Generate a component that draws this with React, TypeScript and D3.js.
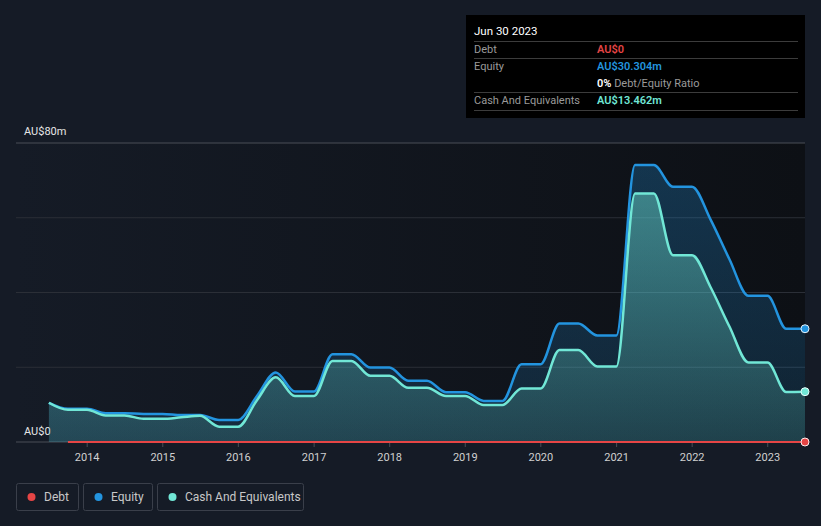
import React from 'react';
import * as d3 from 'd3';

const quarterDates = [
  '2013-06-30', '2013-09-30', '2013-12-31', '2014-03-31', '2014-06-30', '2014-09-30', '2014-12-31',
  '2015-03-31', '2015-06-30', '2015-09-30', '2015-12-31', '2016-03-31', '2016-06-30', '2016-09-30',
  '2016-12-31', '2017-03-31', '2017-06-30', '2017-09-30', '2017-12-31', '2018-03-31', '2018-06-30',
  '2018-09-30', '2018-12-31', '2019-03-31', '2019-06-30', '2019-09-30', '2019-12-31', '2020-03-31',
  '2020-06-30', '2020-09-30', '2020-12-31', '2021-03-31', '2021-06-30', '2021-09-30', '2021-12-31',
  '2022-03-31', '2022-06-30', '2022-09-30', '2022-12-31', '2023-03-31', '2023-06-30',
];

// AU$ millions
const equityValues = [
  10.5, 8.9, 8.9, 7.7, 7.7, 7.5, 7.5,
  7.2, 7.2, 5.9, 5.9, 12.3, 18.6, 13.5,
  13.5, 23.5, 23.5, 19.9, 19.9, 16.4, 16.4,
  13.3, 13.3, 11.0, 11.0, 20.8, 20.8, 31.7,
  31.7, 28.5, 28.5, 74.1, 74.1, 68.3, 68.3,
  59.5, 48.9, 39.1, 39.1, 30.3, 30.304,
];

const cashValues = [
  10.5, 8.6, 8.6, 7.1, 7.1, 6.2, 6.2,
  6.6, 7.0, 4.1, 4.1, 11.2, 17.3, 12.3,
  12.3, 21.7, 21.7, 17.7, 17.7, 14.5, 14.5,
  12.3, 12.3, 9.9, 9.9, 14.3, 14.3, 24.6,
  24.6, 20.2, 20.2, 66.5, 66.5, 50.0, 50.0,
  41.4, 30.9, 21.3, 21.3, 13.4, 13.462,
];

const debtValues: (number | null)[] = [
  null, 0, 0, 0, 0, 0, 0,
  0, 0, 0, 0, 0, 0, 0,
  0, 0, 0, 0, 0, 0, 0,
  0, 0, 0, 0, 0, 0, 0,
  0, 0, 0, 0, 0, 0, 0,
  0, 0, 0, 0, 0, 0,
];

const yTicks = [0, 20, 40, 60, 80];
const xTickYears = [2014, 2015, 2016, 2017, 2018, 2019, 2020, 2021, 2022, 2023];

const tooltipRows = [
  { label: 'Debt', value: 'AU$0', color: '#e64545' },
  { label: 'Equity', value: 'AU$30.304m', color: '#2394df' },
  { label: 'Cash And Equivalents', value: 'AU$13.462m', color: '#71e7d6' },
];

const legendItems = [
  { label: 'Debt', color: '#e64545' },
  { label: 'Equity', color: '#2394df' },
  { label: 'Cash And Equivalents', color: '#71e7d6' },
];

const W = 821;
const H = 526;
const BG = '#151b26';
const FONT = 'Roboto, "Open Sans", sans-serif';

type Pt = { date: Date; v: number };

export default function App() {
  const parse = d3.timeParse('%Y-%m-%d');
  const dates = quarterDates.map((d) => parse(d) as Date);

  const plotLeft = 16;
  const plotRight = 805;
  const x = d3
    .scaleTime()
    .domain([dates[0], dates[dates.length - 1]])
    .range([48.9, plotRight]);
  const y = d3.scaleLinear().domain([0, 80]).range([442, 143]);

  const equity: Pt[] = dates.map((d, i) => ({ date: d, v: equityValues[i] }));
  const cash: Pt[] = dates.map((d, i) => ({ date: d, v: cashValues[i] }));
  const debt: Pt[] = dates
    .map((d, i) => ({ date: d, v: debtValues[i] as number }))
    .filter((p, i) => debtValues[i] !== null);

  const line = d3
    .line<Pt>()
    .x((d) => x(d.date))
    .y((d) => y(d.v))
    .curve(d3.curveMonotoneX);
  const area = d3
    .area<Pt>()
    .x((d) => x(d.date))
    .y0(y(0))
    .y1((d) => y(d.v))
    .curve(d3.curveMonotoneX);

  const last = dates.length - 1;
  const legendX = [16, 83, 157];
  const legendW = [62, 69, 146];

  return (
    <svg
      width={W}
      height={H}
      style={{ position: 'absolute', left: 0, top: 0, fontFamily: FONT }}
    >
      <defs>
        <linearGradient id="plotBg" x1="0" x2="1" y1="0" y2="0">
          <stop offset="0%" stopColor={BG} />
          <stop offset="100%" stopColor="#0d1015" />
        </linearGradient>
        <linearGradient id="equityFill" gradientUnits="userSpaceOnUse" x1="0" x2="0" y1={y(80)} y2={y(0)}>
          <stop offset="0%" stopColor="#2394df" stopOpacity={0.28} />
          <stop offset="100%" stopColor="#2394df" stopOpacity={0.14} />
        </linearGradient>
        <linearGradient id="cashFill" gradientUnits="userSpaceOnUse" x1="0" x2="0" y1={y(80)} y2={y(0)}>
          <stop offset="0%" stopColor="#71e7d6" stopOpacity={0.5} />
          <stop offset="100%" stopColor="#71e7d6" stopOpacity={0.15} />
        </linearGradient>
      </defs>

      <rect x={0} y={0} width={W} height={H} fill={BG} />
      <rect x={plotLeft} y={y(80)} width={plotRight - plotLeft} height={y(0) - y(80)} fill="url(#plotBg)" />

      {/* grid */}
      {yTicks.map((t) => (
        <line
          key={t}
          x1={plotLeft}
          x2={plotRight}
          y1={y(t)}
          y2={y(t)}
          stroke={t === 80 || t === 0 ? '#4a4e57' : '#2b2f37'}
          strokeWidth={1}
        />
      ))}
      <text x={24} y={135} fill="#e6e6e6" fontSize={11}>AU$80m</text>
      <text x={24} y={435} fill="#e6e6e6" fontSize={11}>AU$0</text>

      {/* x axis */}
      {xTickYears.map((yr) => {
        const tx = x(new Date(yr, 0, 1));
        return (
          <g key={yr}>
            <line x1={tx} x2={tx} y1={443} y2={447} stroke="#4a4e57" />
            <text x={tx} y={461} fill="#d0d0d0" fontSize={11} textAnchor="middle">{yr}</text>
          </g>
        );
      })}

      {/* areas */}
      <path d={area(equity) || ''} fill="url(#equityFill)" />
      <path d={area(cash) || ''} fill="url(#cashFill)" />

      {/* lines */}
      <path d={line(equity) || ''} fill="none" stroke="#2394df" strokeWidth={2.5} />
      <path d={line(cash) || ''} fill="none" stroke="#71e7d6" strokeWidth={2.5} />
      <path d={line(debt) || ''} fill="none" stroke="#e64545" strokeWidth={2} />

      <circle cx={x(dates[last])} cy={y(equityValues[last])} r={4} fill="#2394df" stroke="#e8f4fc" strokeWidth={1} />
      <circle cx={x(dates[last])} cy={y(cashValues[last])} r={4} fill="#71e7d6" stroke="#eafffb" strokeWidth={1} />
      <circle cx={x(dates[last])} cy={y(0)} r={4} fill="#e64545" stroke="#ffecec" strokeWidth={1} />

      {/* tooltip */}
      <rect x={466} y={15} width={339} height={103} fill="#000" />
      <text x={474} y={35} fill="#fff" fontSize={11.5}>Jun 30 2023</text>
      <line x1={474} x2={798} y1={41.5} y2={41.5} stroke="#3c3c3c" />
      <text x={474} y={53} fill="#9a9a9a" fontSize={11}>{tooltipRows[0].label}</text>
      <text x={597} y={53} fill={tooltipRows[0].color} fontSize={11} fontWeight={600}>{tooltipRows[0].value}</text>
      <line x1={474} x2={798} y1={58.5} y2={58.5} stroke="#3c3c3c" />
      <text x={474} y={70} fill="#9a9a9a" fontSize={11}>{tooltipRows[1].label}</text>
      <text x={597} y={70} fill={tooltipRows[1].color} fontSize={11} fontWeight={600}>{tooltipRows[1].value}</text>
      <text x={597} y={87} fontSize={11}>
        <tspan fill="#fff" fontWeight={600}>0%</tspan>
        <tspan fill="#9a9a9a"> Debt/Equity Ratio</tspan>
      </text>
      <line x1={474} x2={798} y1={92.5} y2={92.5} stroke="#3c3c3c" />
      <text x={474} y={104} fill="#9a9a9a" fontSize={11}>{tooltipRows[2].label}</text>
      <text x={597} y={104} fill={tooltipRows[2].color} fontSize={11} fontWeight={600}>{tooltipRows[2].value}</text>
      <line x1={474} x2={798} y1={110.5} y2={110.5} stroke="#3c3c3c" />

      {/* legend */}
      {legendItems.map((it, i) => (
        <g key={it.label}>
          <rect
            x={legendX[i] + 0.5}
            y={483.5}
            width={legendW[i]}
            height={27}
            rx={2}
            fill="none"
            stroke="#3a3f4a"
          />
          <circle cx={legendX[i] + 15.5} cy={497} r={4} fill={it.color} />
          <text x={legendX[i] + 28} y={501} fill="#c8c8c8" fontSize={12}>{it.label}</text>
        </g>
      ))}
    </svg>
  );
}
